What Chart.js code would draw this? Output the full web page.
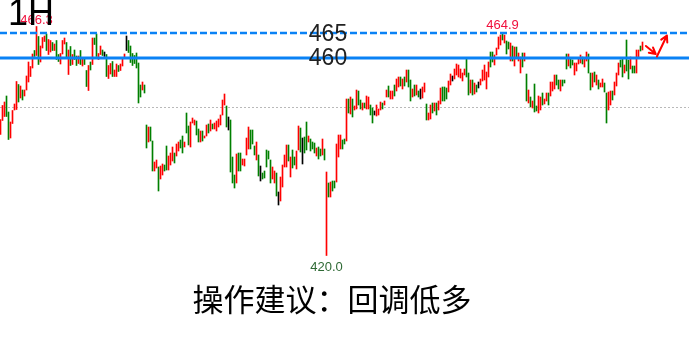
<!DOCTYPE html>
<html>
<head>
<meta charset="utf-8">
<script src="https://cdn.jsdelivr.net/npm/chart.js@4.4.1/dist/chart.umd.min.js"></script>
<style>
html, body { margin: 0; padding: 0; background: #fff; }
#wrap { width: 689px; height: 350px; }
</style>
</head>
<body>
<div id="wrap"><canvas id="chart" width="689" height="350"></canvas></div>
<script>
// 1H candles: high / low of each bar
const highs = [
    447.7,450.5,451.2,452.4,449.2,447.2,449.5,450.8,455.3,454.7,
    454.4,453.6,453.6,456.4,459.2,458.3,460.8,461.5,466.3,464.3,
    462.4,464.1,464.4,464.8,463.7,463.5,463.1,462.8,463.5,460.7,
    460.9,463.5,464.0,463.1,461.6,462.3,460.7,461.6,460.4,460.4,
    461.5,460.1,460.0,457.5,458.5,459.2,464.0,464.0,464.8,460.9,
    462.4,461.6,461.2,460.7,458.5,458.9,459.3,457.6,458.8,458.5,
    458.8,459.9,460.8,464.4,463.5,462.4,460.9,460.5,461.0,459.0,
    454.6,455.2,454.6,446.6,446.2,446.2,443.4,439.2,439.6,438.2,
    438.4,438.8,438.6,442.4,440.4,441.0,442.2,441.0,442.8,443.2,
    443.6,444.4,443.2,449.0,446.4,447.2,448.0,447.6,447.4,445.8,
    445.4,445.4,444.4,446.6,446.8,447.6,446.8,447.0,447.4,447.8,
    448.6,451.6,452.8,450.4,448.2,447.6,440.2,436.6,440.8,441.0,
    441.0,439.8,439.8,444.0,446.2,445.6,445.6,442.4,443.2,440.6,
    438.4,437.0,437.4,441.6,441.4,439.6,438.2,437.4,437.0,433.2,
    436.2,438.6,440.6,442.6,442.6,440.2,441.6,440.2,441.4,446.4,
    446.0,444.0,444.2,447.2,444.4,443.8,443.2,443.0,442.0,442.2,
    441.8,443.8,441.8,437.2,435.0,435.2,435.4,435.4,442.8,444.6,
    444.6,443.6,443.8,451.8,451.8,452.2,451.8,450.4,453.6,453.4,
    451.6,451.0,451.0,452.4,452.2,450.6,450.0,449.4,450.6,449.8,
    451.2,451.0,451.4,453.6,454.4,453.4,453.4,454.6,455.8,456.2,
    456.2,455.8,456.2,457.6,457.6,455.6,453.8,454.6,454.6,453.4,
    453.8,454.2,455.0,450.8,449.0,450.6,451.0,451.0,451.0,451.4,
    454.0,454.2,454.2,454.0,455.4,456.8,456.4,457.8,458.8,458.6,
    457.8,457.0,457.8,459.8,457.0,455.6,455.6,455.0,454.6,455.2,
    455.8,457.6,458.6,457.2,459.2,461.2,461.2,460.6,462.0,464.2,
    464.6,464.9,464.6,463.4,463.2,463.0,462.4,462.2,462.2,461.0,
    460.2,461.0,461.0,456.8,453.6,452.2,451.4,454.8,450.4,452.4,
    452.2,453.0,451.8,453.0,453.0,455.2,455.2,456.6,456.6,455.6,
    455.6,455.6,455.6,460.8,460.8,459.8,459.6,459.0,459.0,460.0,
    460.6,460.2,459.8,461.2,460.8,457.0,457.0,457.2,456.6,455.6,
    455.0,455.8,455.0,453.0,453.2,453.4,453.4,455.2,457.0,459.0,
    459.6,459.8,458.6,463.6,459.6,460.2,458.4,458.4,461.6,461.6,462.4,463.2
]
const lows = [
    444.7,447.5,448.3,448.3,443.7,444.0,446.9,449.6,449.7,451.2,
    452.0,451.6,452.4,453.6,455.2,456.3,458.0,460.3,460.5,458.7,
    459.2,462.0,463.3,461.5,460.7,461.2,461.5,461.5,459.7,459.3,
    458.8,460.8,462.8,460.0,456.7,458.5,458.7,459.7,458.5,458.9,
    458.7,458.4,458.7,454.3,453.5,457.6,458.7,462.7,460.3,459.7,
    460.7,460.5,460.3,456.3,455.9,456.8,456.3,456.3,456.3,457.3,
    457.5,458.4,459.9,461.5,461.1,459.1,458.5,458.9,458.0,451.0,
    452.2,453.6,453.0,442.0,443.2,443.4,437.4,437.4,438.0,433.4,
    435.8,436.6,437.4,437.6,437.6,438.6,439.4,439.0,440.4,441.4,
    442.0,441.0,442.2,445.0,442.6,442.2,447.0,446.6,444.6,443.2,
    443.2,443.4,444.0,444.4,445.0,445.4,445.8,445.8,445.4,446.2,
    446.6,448.6,450.6,446.2,445.6,437.2,435.0,434.0,435.0,437.4,
    437.4,438.6,438.4,440.6,441.8,441.8,442.8,440.6,439.6,436.4,
    435.4,435.8,436.0,438.2,439.8,435.0,435.8,435.0,432.4,430.6,
    431.4,434.2,438.2,438.2,439.4,436.2,438.0,438.6,437.8,441.6,
    441.2,438.8,441.0,441.6,443.2,441.4,441.8,441.0,440.4,439.8,
    440.4,440.6,439.6,420.5,432.2,432.2,433.4,434.0,435.2,440.2,
    441.8,441.8,442.8,443.4,449.0,448.8,448.2,449.6,449.8,450.6,
    449.8,449.6,450.0,449.8,449.8,448.6,447.0,448.6,448.4,448.6,
    449.6,449.8,450.6,452.2,452.2,451.8,451.8,452.4,453.4,454.2,
    454.4,453.8,454.4,455.2,454.2,451.4,452.2,452.4,452.6,452.2,
    451.8,452.0,453.2,447.6,447.6,447.8,449.0,449.4,448.6,449.6,
    450.8,451.4,451.4,451.8,453.2,454.6,455.4,455.8,456.6,456.2,
    456.0,455.4,456.6,456.2,452.6,453.0,452.6,452.8,453.2,454.0,
    454.6,455.4,455.6,453.8,456.2,458.2,459.2,458.6,460.6,461.8,
    462.6,463.6,463.0,460.8,461.8,459.4,459.4,458.4,460.0,459.4,
    457.0,458.2,459.4,451.4,451.0,450.2,450.0,449.2,449.4,449.0,
    449.6,450.6,450.8,451.4,450.6,452.4,453.4,453.8,454.6,453.8,
    453.4,454.4,455.0,457.8,458.4,458.0,458.6,456.6,457.4,458.8,
    459.0,458.8,458.2,459.4,457.0,453.6,454.2,455.2,454.6,453.8,
    454.2,454.2,453.2,447.0,449.6,450.6,451.6,452.6,454.4,456.6,
    458.2,456.2,457.0,457.4,455.8,457.8,457.0,457.0,457.0,460.2,461.4,461.6
]
// u = up (red), d = down (green), n = doji (black)
const dirs = [
    'uuudduuuud','uduuuuudud','uuuduududd','uuudududdu','duddududdu',
    'udnduuduud','uuundddddd','duddudduud','uudduuuduu','ddudduuudd',
    'uduududuuu','uuudndddud','duuuudddud','nddddduudn','uuuududduu',
    'dnddudddud','dudududduu','uddududuud','duduuddnuu','uduuduuduu',
    'dududdudud','nuuduududu','uddduunuuu','uuuddududn','uuuuudduuu',
    'ududdududu','ududududdu','uduuduuudd','udddudduuu','uduuddudud',
    'uudduuduuu','dduddudduudu'
].join('')

const levelValues = [465, 460]
const levelLabels = ['465', '460']
const dottedLevel = 450
const peakLabels = ['466.3', '464.9']
const lowLabel = '420.0'
const periodLabel = '1H'
const adviceText = '操作建议：回调低多'
// hand drawn arrow at the right end: [index, price]
const arrowDown = [[322.7, 462.4], [327.6, 460.8]]
const arrowUp = [[328.2, 460.3], [333.2, 464.5]]

const candleColors = { u: '#ff0000', d: '#008000', n: '#000000' }

function drawArrow(ctx, x1, y1, x2, y2) {
    const a = Math.atan2(y2 - y1, x2 - x1)
    ctx.beginPath()
    ctx.moveTo(x1, y1)
    ctx.lineTo(x2, y2)
    ctx.moveTo(x2, y2)
    ctx.lineTo(x2 - 7 * Math.cos(a - 0.5), y2 - 7 * Math.sin(a - 0.5))
    ctx.moveTo(x2, y2)
    ctx.lineTo(x2 - 7 * Math.cos(a + 0.5), y2 - 7 * Math.sin(a + 0.5))
    ctx.stroke()
}

const overlay = {
    id: 'overlay',
    beforeDatasetsDraw(chart) {
        const { ctx, chartArea, scales: { y } } = chart
        ctx.save()
        ctx.strokeStyle = '#b9b9b9'
        ctx.lineWidth = 1
        ctx.setLineDash([2, 2])
        const py = Math.round(y.getPixelForValue(dottedLevel)) - 0.5
        ctx.beginPath()
        ctx.moveTo(chartArea.left, py)
        ctx.lineTo(chartArea.right, py)
        ctx.stroke()
        ctx.restore()
    },
    afterDatasetsDraw(chart) {
        const { ctx, chartArea, scales: { x, y } } = chart
        const midX = 328
        ctx.save()
        // level lines
        ctx.strokeStyle = '#0a82f5'
        levelValues.forEach((v, i) => {
            const py = y.getPixelForValue(v)
            ctx.lineWidth = i == 0 ? 2.5 : 3
            ctx.setLineDash(i == 0 ? [7, 3] : [])
            ctx.beginPath()
            ctx.moveTo(chartArea.left, py)
            ctx.lineTo(chartArea.right, py)
            ctx.stroke()
        })
        ctx.setLineDash([])
        ctx.fillStyle = '#222'
        ctx.font = '23px "Liberation Sans", Arial, sans-serif'
        ctx.textAlign = 'center'
        ctx.textBaseline = 'middle'
        ctx.fillText(levelLabels[0], midX, y.getPixelForValue(levelValues[0]) + 2)
        ctx.fillText(levelLabels[1], midX, y.getPixelForValue(levelValues[1]) + 1)

        // extreme labels
        let iMax1 = 0
        for (let i = 0; i < 100; i++) if (highs[i] > highs[iMax1]) iMax1 = i
        let iMax2 = 200
        for (let i = 200; i < highs.length; i++) if (highs[i] > highs[iMax2]) iMax2 = i
        let iMin = 0
        for (let i = 0; i < lows.length; i++) if (lows[i] < lows[iMin]) iMin = i
        ctx.font = '13px "Liberation Sans", Arial, sans-serif'
        ctx.textBaseline = 'alphabetic'
        ctx.fillStyle = '#f0103c'
        ctx.fillText(peakLabels[0], x.getPixelForValue(iMax1), y.getPixelForValue(highs[iMax1]) - 3)
        ctx.fillText(peakLabels[1], x.getPixelForValue(iMax2), y.getPixelForValue(highs[iMax2]) - 5)
        ctx.fillStyle = '#2f6a35'
        ctx.textBaseline = 'top'
        ctx.fillText(lowLabel, x.getPixelForValue(iMin), y.getPixelForValue(lows[iMin]) + 5)

        // period label
        ctx.fillStyle = '#000'
        ctx.textAlign = 'left'
        ctx.textBaseline = 'alphabetic'
        ctx.font = '36px "Liberation Sans", Arial, sans-serif'
        ctx.fillText(periodLabel, 8, 25)

        // advice text
        ctx.textAlign = 'center'
        ctx.textBaseline = 'middle'
        ctx.font = '31px "Noto Sans CJK SC", sans-serif'
        ctx.fillText(adviceText, 332, 299)

        // arrows
        ctx.strokeStyle = '#ff0000'
        ctx.lineWidth = 2
        ctx.lineCap = 'round'
        const p = pt => [x.getPixelForValue(pt[0]), y.getPixelForValue(pt[1])]
        drawArrow(ctx, ...p(arrowDown[0]), ...p(arrowDown[1]))
        drawArrow(ctx, ...p(arrowUp[0]), ...p(arrowUp[1]))
        ctx.restore()
    }
}

function drawCandles(id) {
    const n = Math.min(highs.length, lows.length)
    const points = []
    const colors = []
    for (let i = 0; i < n; i++) {
        points.push({ x: i, y: [lows[i], highs[i]] })
        colors.push(candleColors[dirs[i]] || candleColors.u)
    }

    const data = {
        datasets: [{
            data: points,
            backgroundColor: colors,
            borderWidth: 0,
            barThickness: 1
        }]
    }

    const config = {
        type: 'bar',
        data: data,
        options: {
            responsive: false,
            animation: false,
            devicePixelRatio: 1,
            layout: { padding: 0 },
            plugins: {
                legend: { display: false },
                tooltip: { enabled: false }
            },
            scales: {
                x: { type: 'linear', offset: false, bounds: 'data', min: -0.25, max: 344.25, display: false },
                y: { min: 401.6, max: 471.6, display: false }
            }
        },
        plugins: [overlay]
    }

    let ctx = document.getElementById(id).getContext('2d')
    new Chart(ctx, config)
}

drawCandles('chart')
</script>
</body>
</html>
